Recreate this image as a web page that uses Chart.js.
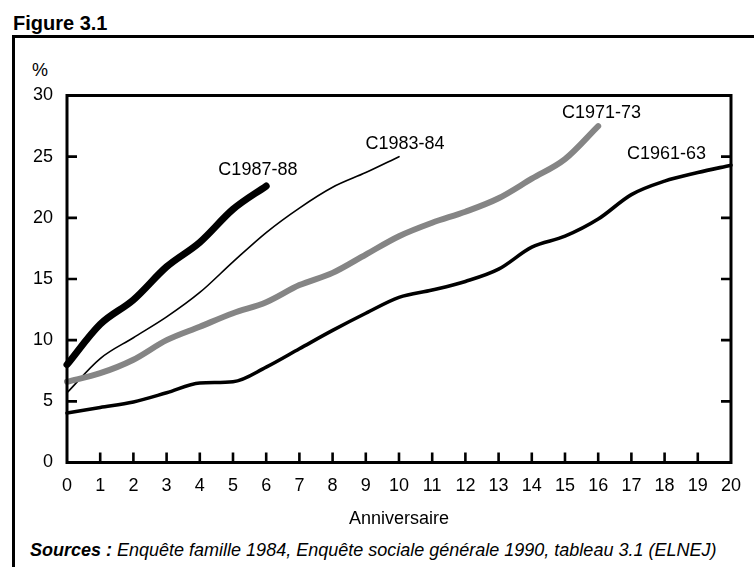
<!DOCTYPE html>
<html>
<head>
<meta charset="utf-8">
<script src="https://cdn.jsdelivr.net/npm/chart.js@4/dist/chart.umd.min.js"></script>
<style>
  html, body { margin: 0; padding: 0; background: #fff; }
  body { width: 754px; height: 567px; position: relative; overflow: hidden; font-family: "Liberation Sans", Arial, sans-serif; }
  #frame { position: absolute; left: 12px; top: 35px; width: 760px; height: 560px; border-top: 3px solid #000; border-left: 3px solid #000; box-sizing: border-box; }
  #fig { position: absolute; left: 13px; top: 13px; font-size: 20px; line-height: 1; font-weight: bold; white-space: nowrap; }
  #pct { position: absolute; left: 32px; top: 61px; font-size: 18px; line-height: 1; }
  #src { position: absolute; left: 30px; top: 541px; font-size: 18px; line-height: 1; font-style: italic; white-space: nowrap; }
  #wrap { position: absolute; left: 0; top: 0; width: 754px; height: 567px; }
</style>
</head>
<body>
<div id="frame"></div>
<div id="fig">Figure 3.1</div>
<div id="pct">%</div>
<div id="src"><b>Sources :</b> Enquête famille 1984, Enquête sociale générale 1990, tableau 3.1 (ELNEJ)</div>
<div id="wrap"><canvas id="c" width="754" height="567"></canvas></div>
<script>
// ---- data ----
const anniversaries = ['0','1','2','3','4','5','6','7','8','9','10','11','12','13','14','15','16','17','18','19','20'];
const c1961_63 = [4.05, 4.5, 4.95, 5.7, 6.5, 6.6, 7.8, 9.3, 10.8, 12.2, 13.5, 14.1, 14.8, 15.8, 17.6, 18.5, 19.9, 21.9, 23.0, 23.7, 24.3];
const c1971_73 = [6.6, 7.3, 8.4, 10.0, 11.1, 12.2, 13.1, 14.5, 15.5, 17.0, 18.5, 19.6, 20.5, 21.6, 23.2, 24.8, 27.5];
const c1983_84 = [5.7, 8.5, 10.2, 11.9, 13.9, 16.4, 18.8, 20.8, 22.5, 23.7, 25.0];
const c1987_88 = [8.0, 11.3, 13.3, 16.0, 18.0, 20.7, 22.6];
const yTicks = [0, 5, 10, 15, 20, 25, 30];
const seriesNames = ['C1961-63', 'C1971-73', 'C1983-84', 'C1987-88'];

// label anchors (data coordinates: anniversary index, percent)
const labelAnchors = [
  {text: seriesNames[0], x: 18.06, y: 25.2},
  {text: seriesNames[1], x: 16.1, y: 28.6},
  {text: seriesNames[2], x: 10.18, y: 26.0},
  {text: seriesNames[3], x: 5.75, y: 23.9}
];

const FONT = '"Liberation Sans", Arial, sans-serif';

const framePlugin = {
  id: 'frameTicks',
  afterDatasetsDraw(chart) {
    const {ctx, chartArea: a, scales: {x, y}} = chart;
    ctx.save();
    ctx.strokeStyle = '#000';
    ctx.lineWidth = 3;
    ctx.lineCap = 'butt';
    ctx.strokeRect(a.left, a.top, a.right - a.left, a.bottom - a.top);
    ctx.lineWidth = 2.6;
    const tl = 10;
    ctx.beginPath();
    y.ticks.forEach(t => {
      if (t.value <= 0 || t.value >= 30) return;
      const py = y.getPixelForValue(t.value);
      ctx.moveTo(a.left, py); ctx.lineTo(a.left + tl, py);
      ctx.moveTo(a.right, py); ctx.lineTo(a.right - tl, py);
    });
    for (let i = 1; i < anniversaries.length - 1; i++) {
      const px = x.getPixelForValue(i);
      ctx.moveTo(px, a.bottom); ctx.lineTo(px, a.bottom - tl);
    }
    ctx.stroke();
    ctx.fillStyle = '#000';
    ctx.font = '18px ' + FONT;
    ctx.textAlign = 'center';
    ctx.textBaseline = 'middle';
    labelAnchors.forEach(l => {
      ctx.fillText(l.text, x.getPixelForValue(l.x), y.getPixelForValue(l.y));
    });
    ctx.restore();
  }
};

const ds = (label, data, color, width) => ({
  label, data, borderColor: color, borderWidth: width,
  pointRadius: 0, pointHoverRadius: 0, fill: false,
  cubicInterpolationMode: 'monotone', borderCapStyle: 'round', borderJoinStyle: 'round',
  clip: false
});

new Chart(document.getElementById('c'), {
  type: 'line',
  data: {
    labels: anniversaries,
    datasets: [
      ds(seriesNames[0], c1961_63, '#000000', 3.6),
      ds(seriesNames[1], c1971_73, '#858585', 6),
      ds(seriesNames[2], c1983_84, '#000000', 1.6),
      ds(seriesNames[3], c1987_88, '#000000', 7)
    ]
  },
  options: {
    responsive: false,
    devicePixelRatio: 1,
    animation: false,
    events: [],
    layout: { padding: { top: 95.5, right: 21, left: 0, bottom: 0 } },
    plugins: { legend: { display: false }, tooltip: { enabled: false } },
    scales: {
      x: {
        type: 'category',
        grid: { display: false, drawTicks: false },
        border: { display: false },
        ticks: { color: '#000', font: { family: FONT, size: 18 }, padding: 13, autoSkip: false, maxRotation: 0 },
        title: { display: true, text: 'Anniversaire', color: '#000', font: { family: FONT, size: 18 }, padding: { top: 0, bottom: 37 } },
        afterFit(s) { s.height = 104.5; }
      },
      y: {
        min: 0, max: 30,
        afterBuildTicks(s) { s.ticks = yTicks.map(v => ({value: v})); },
        grid: { display: false, drawTicks: false },
        border: { display: false },
        ticks: { color: '#000', font: { family: FONT, size: 18 }, padding: 14 },
        afterFit(s) { s.width = 67; }
      }
    }
  },
  plugins: [framePlugin]
});
</script>
</body>
</html>
